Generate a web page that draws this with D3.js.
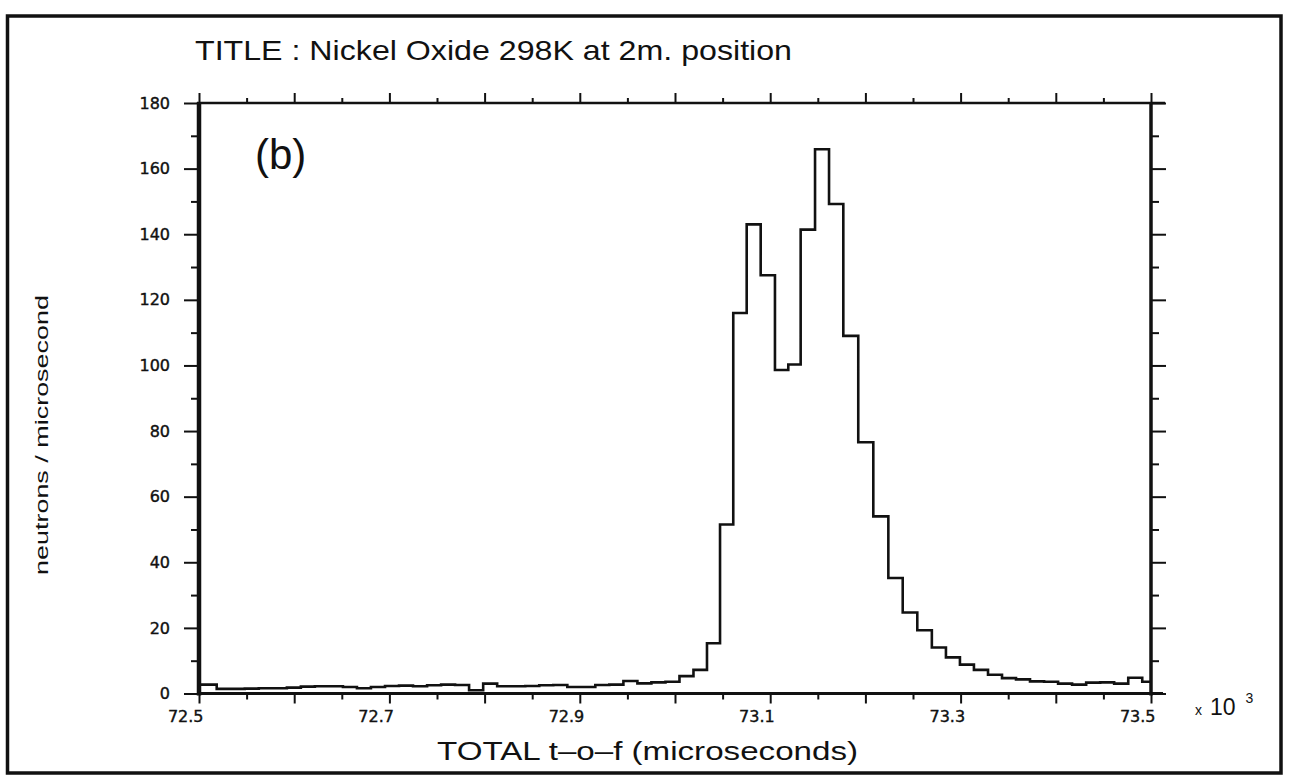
<!DOCTYPE html>
<html><head><meta charset="utf-8">
<script src="https://cdn.jsdelivr.net/npm/d3@7/dist/d3.min.js"></script>
<style>body{margin:0;background:#fff}</style>
</head><body>
<svg id="chart" width="1293" height="784"></svg>
<script>
// ---------------- data ----------------
const titleText = "TITLE : Nickel Oxide 298K at 2m. position";
const xLabelText = "TOTAL t–o–f (microseconds)";
const yLabelText = "neutrons / microsecond";
const panelText = "(b)";
const scaleNote = ["x", "10", "3"];

// histogram bin edges (microseconds)
const binEdges = [72500.0, 72518.6, 72533.3, 72548.1, 72562.8, 72577.5, 72592.3, 72607.0, 72621.7, 72636.4,
  72651.2, 72665.9, 72680.6, 72695.4, 72710.1, 72724.8, 72739.6, 72754.3, 72769.0, 72783.7,
  72798.5, 72813.2, 72827.9, 72842.7, 72857.4, 72872.1, 72886.9, 72901.6, 72916.3, 72931.0,
  72945.8, 72960.5, 72975.2, 72990.0, 73004.7, 73019.4, 73033.6, 73047.3, 73061.2, 73075.3,
  73090.0, 73105.0, 73119.0, 73132.0, 73147.1, 73161.8, 73176.8, 73192.5, 73208.3, 73224.1,
  73239.2, 73254.5, 73269.8, 73284.6, 73299.3, 73314.0, 73328.8, 73343.5, 73358.2, 73372.9,
  73387.7, 73402.4, 73417.1, 73431.9, 73446.6, 73461.3, 73476.1, 73490.8, 73505.5];

// neutrons / microsecond in each bin
const counts = [2.7,
  1.4, 1.4, 1.5, 1.6, 1.6, 1.8, 2.1, 2.2, 2.2, 2.0, 1.6, 2.0, 2.3, 2.4, 2.2, 2.5, 2.7, 2.6,
  1.0, 3.0, 2.2, 2.2, 2.3, 2.5, 2.6, 2.0, 2.0, 2.6, 2.7, 3.8, 3.1, 3.4, 3.6, 5.3, 7.2, 15.3,
  51.5, 116, 143, 127.5, 98.6, 100.3, 141.4, 165.9, 149.2, 109, 76.6, 54, 35.2, 24.7, 19.3,
  14, 11, 8.8, 7.2, 5.7, 4.7, 4.3, 3.7, 3.6, 3.0, 2.7, 3.3, 3.4, 3.0, 4.8, 3.6];

const xMajorTicks = [72500, 72600, 72700, 72800, 72900, 73000, 73100, 73200, 73300, 73400, 73500];
const xMinorTicks = [72550, 72650, 72750, 72850, 72950, 73050, 73150, 73250, 73350, 73450];
const xTickLabels = ["72.5", "72.7", "72.9", "73.1", "73.3", "73.5"];
const yMajorTicks = [0, 20, 40, 60, 80, 100, 120, 140, 160, 180];
const yMinorTicks = [10, 30, 50, 70, 90, 110, 130, 150, 170];

// ---------------- layout ----------------
const L = 199, R = 1151, T = 103, B = 693.5;
const svg = d3.select("#chart");
svg.append("rect").attr("width", 1293).attr("height", 784).attr("fill", "#fff");

const x = d3.scaleLinear().domain([72500, 73500]).range([L, R]);
const y = d3.scaleLinear().domain([0, 180]).range([B, T]);

const ink = "#111";
const tickFont = "DejaVu Sans, sans-serif";

// frame
svg.append("rect").attr("x", 7.5).attr("y", 16).attr("width", 1273.5).attr("height", 757)
  .attr("fill", "none").attr("stroke", ink).attr("stroke-width", 3.5);

// clip for histogram
svg.append("defs").append("clipPath").attr("id", "plotclip")
  .append("rect").attr("x", L).attr("y", T).attr("width", R - L).attr("height", B - T);

// histogram
const pts = counts.map((c, i) => [binEdges[i], c]);
pts.push([binEdges[binEdges.length - 1], counts[counts.length - 1]]);
const line = d3.line().x(d => x(d[0])).y(d => y(d[1])).curve(d3.curveStepAfter);
svg.append("path").attr("d", line(pts)).attr("clip-path", "url(#plotclip)")
  .attr("fill", "none").attr("stroke", ink).attr("stroke-width", 2.6).attr("stroke-linejoin", "miter");

// axes helpers
function styleAxis(g) {
  g.select(".domain").remove();
  g.selectAll(".tick line").attr("stroke", ink).attr("stroke-width", 2);
  g.selectAll(".tick text").attr("fill", ink).attr("font-family", tickFont)
    .attr("font-size", 16).attr("stroke", ink).attr("stroke-width", 0.4);
}
const labelledVals = xTickLabels.map(s => Math.round(parseFloat(s) * 1000));

// bottom axis
const gb = svg.append("g").attr("transform", `translate(0,${B})`)
  .call(d3.axisBottom(x).tickValues(xMajorTicks).tickSizeInner(10).tickSizeOuter(0).tickPadding(7)
    .tickFormat(d => { const i = labelledVals.indexOf(d); return i >= 0 ? xTickLabels[i] : ""; }))
  .call(styleAxis);
gb.selectAll(".tick text").attr("text-anchor", "end").attr("x", 4);
svg.append("g").attr("transform", `translate(0,${B})`)
  .call(d3.axisBottom(x).tickValues(xMinorTicks).tickSizeInner(6).tickSizeOuter(0).tickFormat(""))
  .call(styleAxis);
// top axis
svg.append("g").attr("transform", `translate(0,${T})`)
  .call(d3.axisTop(x).tickValues(xMajorTicks).tickSizeInner(10).tickSizeOuter(0).tickFormat(""))
  .call(styleAxis);
svg.append("g").attr("transform", `translate(0,${T})`)
  .call(d3.axisTop(x).tickValues(xMinorTicks).tickSizeInner(5).tickSizeOuter(0).tickFormat(""))
  .call(styleAxis);
// left axis
svg.append("g").attr("transform", `translate(${L},0)`)
  .call(d3.axisLeft(y).tickValues(yMajorTicks).tickSizeInner(15).tickSizeOuter(0).tickPadding(14)
    .tickFormat(d3.format("d")))
  .call(styleAxis);
svg.append("g").attr("transform", `translate(${L},0)`)
  .call(d3.axisLeft(y).tickValues(yMinorTicks).tickSizeInner(8).tickSizeOuter(0).tickFormat(""))
  .call(styleAxis);
// right axis
svg.append("g").attr("transform", `translate(${R},0)`)
  .call(d3.axisRight(y).tickValues(yMajorTicks).tickSizeInner(15).tickSizeOuter(0).tickFormat(""))
  .call(styleAxis);
svg.append("g").attr("transform", `translate(${R},0)`)
  .call(d3.axisRight(y).tickValues(yMinorTicks).tickSizeInner(8).tickSizeOuter(0).tickFormat(""))
  .call(styleAxis);

// axis lines (different weights like the original plot)
svg.append("line").attr("x1", L).attr("x2", L).attr("y1", T - 1).attr("y2", B + 2)
  .attr("stroke", ink).attr("stroke-width", 4.5);
svg.append("line").attr("x1", L - 2).attr("x2", R + 12).attr("y1", B).attr("y2", B)
  .attr("stroke", ink).attr("stroke-width", 3);
svg.append("line").attr("x1", L - 2).attr("x2", R + 14).attr("y1", T).attr("y2", T)
  .attr("stroke", ink).attr("stroke-width", 2.6);
svg.append("line").attr("x1", R).attr("x2", R).attr("y1", T - 1).attr("y2", B + 2)
  .attr("stroke", ink).attr("stroke-width", 3.5);

// title
svg.append("text").attr("x", 195).attr("y", 60).text(titleText)
  .attr("font-family", "Liberation Sans, Arial, sans-serif").attr("font-size", 28)
  .attr("textLength", 597).attr("lengthAdjust", "spacingAndGlyphs").attr("fill", ink);

// panel label
svg.append("text").attr("x", 255).attr("y", 169).text(panelText)
  .attr("font-family", "Liberation Sans, Arial, sans-serif").attr("font-size", 42).attr("fill", ink);

// x label
svg.append("text").attr("x", 437).attr("y", 760).text(xLabelText)
  .attr("font-family", "Liberation Sans, Arial, sans-serif").attr("font-size", 25)
  .attr("textLength", 421).attr("lengthAdjust", "spacingAndGlyphs").attr("fill", ink);

// y label
svg.append("text").attr("transform", "translate(48,435) rotate(-90)").attr("text-anchor", "middle")
  .text(yLabelText).attr("font-family", "Liberation Sans, Arial, sans-serif").attr("font-size", 19)
  .attr("textLength", 280).attr("lengthAdjust", "spacingAndGlyphs").attr("fill", ink);

// x 10^3 multiplier
const note = svg.append("text").attr("x", 1195).attr("y", 715)
  .attr("font-family", "Liberation Sans, Arial, sans-serif").attr("fill", ink);
note.append("tspan").attr("font-size", 14).text(scaleNote[0]);
note.append("tspan").attr("dx", 8).attr("font-size", 23).text(scaleNote[1]);
note.append("tspan").attr("dx", 10).attr("dy", -12).attr("font-size", 14).text(scaleNote[2]);
</script>
</body></html>
